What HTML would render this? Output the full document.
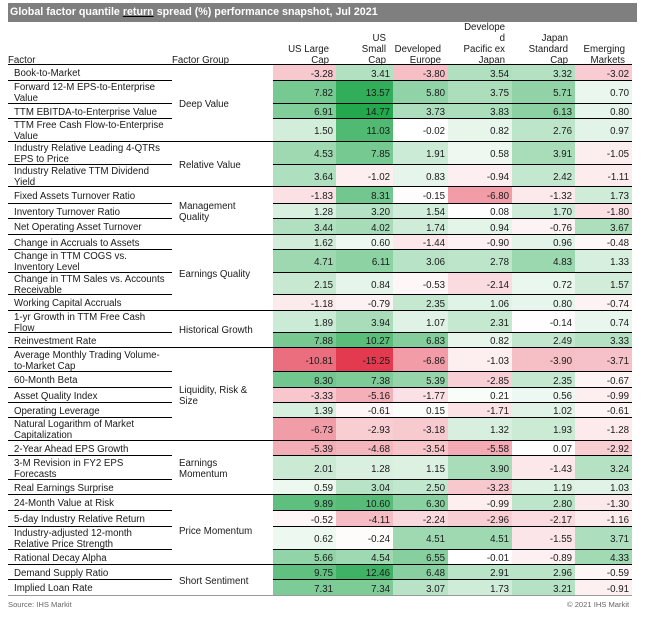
<!DOCTYPE html>
<html><head><meta charset="utf-8">
<style>
*{margin:0;padding:0;box-sizing:border-box}
html,body{width:646px;height:619px;background:#fff;overflow:hidden}
body{font-family:"Liberation Sans",Arial,sans-serif;color:#1a1a1a;position:relative}
.title{position:absolute;left:8px;top:3px;width:629px;height:19px;background:#7f7f7f;color:#fff;font-weight:bold;font-size:10.7px;line-height:19px;padding-left:2px;white-space:nowrap}
.title u{text-decoration:underline;text-decoration-color:#000}
.h{position:absolute;bottom:553px;font-size:9.7px;line-height:11px;white-space:nowrap}
.hr{text-align:right;padding-right:7px}
.hl{position:absolute;left:8px;top:64px;width:624px;height:1px;background:#000;z-index:3}
.r{position:absolute;left:0;width:646px;font-size:9.7px}
.r>div{position:absolute;top:0;height:100%;display:flex;align-items:center;white-space:nowrap}
.r>div.f{left:14px;width:158px;line-height:10.8px;padding-top:3px}
.r>div.c{justify-content:flex-end;padding-right:3px;padding-top:2px;
 --p:calc(max(0, var(--v)) / 14.77);
 --n:calc(max(0, -1 * var(--v)) / 15.25);
 --fp:min(2 * var(--p), 0.085 + 1.15 * var(--p), 0.186 + 0.814 * var(--p));
 --fn:min(1.3 * var(--n), 0.1 + 0.9 * var(--n));
 background:rgb(calc(255 - 220 * var(--fp) - 28 * var(--fn)), calc(255 - 87 * var(--fp) - 197 * var(--fn)), calc(255 - 177 * var(--fp) - 175 * var(--fn)));}
.r>div:nth-child(2){left:273px;width:63px}
.r>div:nth-child(3){left:336px;width:57px}
.r>div:nth-child(4){left:393px;width:55px}
.r>div:nth-child(5){left:448px;width:64px}
.r>div:nth-child(6){left:512px;width:63px}
.r>div:nth-child(7){left:575px;width:57px}
.r::before{content:"";position:absolute;left:8px;width:164px;bottom:0;height:1px;background:#000;z-index:2}
.r::after{content:"";position:absolute;left:273px;width:359px;bottom:0;height:1px;background:#000;z-index:2}
.r.g::after{left:8px;width:624px}
.r.last::after{background:#9a9a9a}
.r.last::before{background:#9a9a9a}
.grp{position:absolute;left:179px;width:94px;display:flex;align-items:center;font-size:9.7px;line-height:10.8px;white-space:nowrap;padding-top:4px}
.foot{position:absolute;top:600px;font-size:7.6px;color:#666;line-height:10px;white-space:nowrap}
</style></head><body>
<div class="title">Global factor quantile <u>return</u> spread (%) performance snapshot, Jul 2021</div>

<div class="h" style="left:8px"><u>Factor</u></div>
<div class="h" style="left:172px">Factor Group</div>
<div class="h hr" style="left:273px;width:63px">US Large<br>Cap</div>
<div class="h hr" style="left:336px;width:57px">US<br>Small<br>Cap</div>
<div class="h hr" style="left:393px;width:55px">Developed<br>Europe</div>
<div class="h hr" style="left:448px;width:64px">Develope<br>d<br>Pacific ex<br>Japan</div>
<div class="h hr" style="left:512px;width:63px">Japan<br>Standard<br>Cap</div>
<div class="h hr" style="left:575px;width:57px">Emerging<br>Markets</div>
<div class="hl"></div>

<div class="r" style="top:65px;height:16px"><div class="f">Book-to-Market</div><div class="c" style="--v:-3.28">-3.28</div><div class="c" style="--v:3.41">3.41</div><div class="c" style="--v:-3.80">-3.80</div><div class="c" style="--v:3.54">3.54</div><div class="c" style="--v:3.32">3.32</div><div class="c" style="--v:-3.02">-3.02</div></div>
<div class="r" style="top:81px;height:23px"><div class="f">Forward 12-M EPS-to-Enterprise<br>Value</div><div class="c" style="--v:7.82">7.82</div><div class="c" style="--v:13.57">13.57</div><div class="c" style="--v:5.80">5.80</div><div class="c" style="--v:3.75">3.75</div><div class="c" style="--v:5.71">5.71</div><div class="c" style="--v:0.70">0.70</div></div>
<div class="r" style="top:104px;height:15px"><div class="f">TTM EBITDA-to-Enterprise Value</div><div class="c" style="--v:6.91">6.91</div><div class="c" style="--v:14.77">14.77</div><div class="c" style="--v:3.73">3.73</div><div class="c" style="--v:3.83">3.83</div><div class="c" style="--v:6.13">6.13</div><div class="c" style="--v:0.80">0.80</div></div>
<div class="r g" style="top:119px;height:23px"><div class="f">TTM Free Cash Flow-to-Enterprise<br>Value</div><div class="c" style="--v:1.50">1.50</div><div class="c" style="--v:11.03">11.03</div><div class="c" style="--v:-0.02">-0.02</div><div class="c" style="--v:0.82">0.82</div><div class="c" style="--v:2.76">2.76</div><div class="c" style="--v:0.97">0.97</div></div>

<div class="r" style="top:142px;height:23px"><div class="f">Industry Relative Leading 4-QTRs<br>EPS to Price</div><div class="c" style="--v:4.53">4.53</div><div class="c" style="--v:7.85">7.85</div><div class="c" style="--v:1.91">1.91</div><div class="c" style="--v:0.58">0.58</div><div class="c" style="--v:3.91">3.91</div><div class="c" style="--v:-1.05">-1.05</div></div>
<div class="r g" style="top:165px;height:22px"><div class="f">Industry Relative TTM Dividend<br>Yield</div><div class="c" style="--v:3.64">3.64</div><div class="c" style="--v:-1.02">-1.02</div><div class="c" style="--v:0.83">0.83</div><div class="c" style="--v:-0.94">-0.94</div><div class="c" style="--v:2.42">2.42</div><div class="c" style="--v:-1.11">-1.11</div></div>

<div class="r" style="top:187px;height:17px"><div class="f">Fixed Assets Turnover Ratio</div><div class="c" style="--v:-1.83">-1.83</div><div class="c" style="--v:8.31">8.31</div><div class="c" style="--v:-0.15">-0.15</div><div class="c" style="--v:-6.80">-6.80</div><div class="c" style="--v:-1.32">-1.32</div><div class="c" style="--v:1.73">1.73</div></div>
<div class="r" style="top:204px;height:15px"><div class="f">Inventory Turnover Ratio</div><div class="c" style="--v:1.28">1.28</div><div class="c" style="--v:3.20">3.20</div><div class="c" style="--v:1.54">1.54</div><div class="c" style="--v:0.08">0.08</div><div class="c" style="--v:1.70">1.70</div><div class="c" style="--v:-1.80">-1.80</div></div>
<div class="r g" style="top:219px;height:16px"><div class="f">Net Operating Asset Turnover</div><div class="c" style="--v:3.44">3.44</div><div class="c" style="--v:4.02">4.02</div><div class="c" style="--v:1.74">1.74</div><div class="c" style="--v:0.94">0.94</div><div class="c" style="--v:-0.76">-0.76</div><div class="c" style="--v:3.67">3.67</div></div>

<div class="r" style="top:235px;height:15px"><div class="f">Change in Accruals to Assets</div><div class="c" style="--v:1.62">1.62</div><div class="c" style="--v:0.60">0.60</div><div class="c" style="--v:-1.44">-1.44</div><div class="c" style="--v:-0.90">-0.90</div><div class="c" style="--v:0.96">0.96</div><div class="c" style="--v:-0.48">-0.48</div></div>
<div class="r" style="top:250px;height:23px"><div class="f">Change in TTM COGS vs.<br>Inventory Level</div><div class="c" style="--v:4.71">4.71</div><div class="c" style="--v:6.11">6.11</div><div class="c" style="--v:3.06">3.06</div><div class="c" style="--v:2.78">2.78</div><div class="c" style="--v:4.83">4.83</div><div class="c" style="--v:1.33">1.33</div></div>
<div class="r" style="top:273px;height:22px"><div class="f">Change in TTM Sales vs. Accounts<br>Receivable</div><div class="c" style="--v:2.15">2.15</div><div class="c" style="--v:0.84">0.84</div><div class="c" style="--v:-0.53">-0.53</div><div class="c" style="--v:-2.14">-2.14</div><div class="c" style="--v:0.72">0.72</div><div class="c" style="--v:1.57">1.57</div></div>
<div class="r g" style="top:295px;height:16px"><div class="f">Working Capital Accruals</div><div class="c" style="--v:-1.18">-1.18</div><div class="c" style="--v:-0.79">-0.79</div><div class="c" style="--v:2.35">2.35</div><div class="c" style="--v:1.06">1.06</div><div class="c" style="--v:0.80">0.80</div><div class="c" style="--v:-0.74">-0.74</div></div>

<div class="r" style="top:311px;height:22px"><div class="f">1-yr Growth in TTM Free Cash<br>Flow</div><div class="c" style="--v:1.89">1.89</div><div class="c" style="--v:3.94">3.94</div><div class="c" style="--v:1.07">1.07</div><div class="c" style="--v:2.31">2.31</div><div class="c" style="--v:-0.14">-0.14</div><div class="c" style="--v:0.74">0.74</div></div>
<div class="r g" style="top:333px;height:15px"><div class="f">Reinvestment Rate</div><div class="c" style="--v:7.88">7.88</div><div class="c" style="--v:10.27">10.27</div><div class="c" style="--v:6.83">6.83</div><div class="c" style="--v:0.82">0.82</div><div class="c" style="--v:2.49">2.49</div><div class="c" style="--v:3.33">3.33</div></div>

<div class="r" style="top:348px;height:24px"><div class="f">Average Monthly Trading Volume-<br>to-Market Cap</div><div class="c" style="--v:-10.81">-10.81</div><div class="c" style="--v:-15.25">-15.25</div><div class="c" style="--v:-6.86">-6.86</div><div class="c" style="--v:-1.03">-1.03</div><div class="c" style="--v:-3.90">-3.90</div><div class="c" style="--v:-3.71">-3.71</div></div>
<div class="r" style="top:372px;height:16px"><div class="f">60-Month Beta</div><div class="c" style="--v:8.30">8.30</div><div class="c" style="--v:7.38">7.38</div><div class="c" style="--v:5.39">5.39</div><div class="c" style="--v:-2.85">-2.85</div><div class="c" style="--v:2.35">2.35</div><div class="c" style="--v:-0.67">-0.67</div></div>
<div class="r" style="top:388px;height:15px"><div class="f">Asset Quality Index</div><div class="c" style="--v:-3.33">-3.33</div><div class="c" style="--v:-5.16">-5.16</div><div class="c" style="--v:-1.77">-1.77</div><div class="c" style="--v:0.21">0.21</div><div class="c" style="--v:0.56">0.56</div><div class="c" style="--v:-0.99">-0.99</div></div>
<div class="r" style="top:403px;height:15px"><div class="f">Operating Leverage</div><div class="c" style="--v:1.39">1.39</div><div class="c" style="--v:-0.61">-0.61</div><div class="c" style="--v:0.15">0.15</div><div class="c" style="--v:-1.71">-1.71</div><div class="c" style="--v:1.02">1.02</div><div class="c" style="--v:-0.61">-0.61</div></div>
<div class="r g" style="top:418px;height:23px"><div class="f">Natural Logarithm of Market<br>Capitalization</div><div class="c" style="--v:-6.73">-6.73</div><div class="c" style="--v:-2.93">-2.93</div><div class="c" style="--v:-3.18">-3.18</div><div class="c" style="--v:1.32">1.32</div><div class="c" style="--v:1.93">1.93</div><div class="c" style="--v:-1.28">-1.28</div></div>

<div class="r" style="top:441px;height:15px"><div class="f">2-Year Ahead EPS Growth</div><div class="c" style="--v:-5.39">-5.39</div><div class="c" style="--v:-4.68">-4.68</div><div class="c" style="--v:-3.54">-3.54</div><div class="c" style="--v:-5.58">-5.58</div><div class="c" style="--v:0.07">0.07</div><div class="c" style="--v:-2.92">-2.92</div></div>
<div class="r" style="top:456px;height:24px"><div class="f">3-M Revision in FY2 EPS<br>Forecasts</div><div class="c" style="--v:2.01">2.01</div><div class="c" style="--v:1.28">1.28</div><div class="c" style="--v:1.15">1.15</div><div class="c" style="--v:3.90">3.90</div><div class="c" style="--v:-1.43">-1.43</div><div class="c" style="--v:3.24">3.24</div></div>
<div class="r g" style="top:480px;height:15px"><div class="f">Real Earnings Surprise</div><div class="c" style="--v:0.59">0.59</div><div class="c" style="--v:3.04">3.04</div><div class="c" style="--v:2.50">2.50</div><div class="c" style="--v:-3.23">-3.23</div><div class="c" style="--v:1.19">1.19</div><div class="c" style="--v:1.03">1.03</div></div>

<div class="r" style="top:495px;height:16px"><div class="f">24-Month Value at Risk</div><div class="c" style="--v:9.89">9.89</div><div class="c" style="--v:10.60">10.60</div><div class="c" style="--v:6.30">6.30</div><div class="c" style="--v:-0.99">-0.99</div><div class="c" style="--v:2.80">2.80</div><div class="c" style="--v:-1.30">-1.30</div></div>
<div class="r" style="top:511px;height:16px"><div class="f">5-day Industry Relative Return</div><div class="c" style="--v:-0.52">-0.52</div><div class="c" style="--v:-4.11">-4.11</div><div class="c" style="--v:-2.24">-2.24</div><div class="c" style="--v:-2.96">-2.96</div><div class="c" style="--v:-2.17">-2.17</div><div class="c" style="--v:-1.16">-1.16</div></div>
<div class="r" style="top:527px;height:23px"><div class="f">Industry-adjusted 12-month<br>Relative Price Strength</div><div class="c" style="--v:0.62">0.62</div><div class="c" style="--v:-0.24">-0.24</div><div class="c" style="--v:4.51">4.51</div><div class="c" style="--v:4.51">4.51</div><div class="c" style="--v:-1.55">-1.55</div><div class="c" style="--v:3.71">3.71</div></div>
<div class="r g" style="top:550px;height:15px"><div class="f">Rational Decay Alpha</div><div class="c" style="--v:5.66">5.66</div><div class="c" style="--v:4.54">4.54</div><div class="c" style="--v:6.55">6.55</div><div class="c" style="--v:-0.01">-0.01</div><div class="c" style="--v:-0.89">-0.89</div><div class="c" style="--v:4.33">4.33</div></div>

<div class="r" style="top:565px;height:15px"><div class="f">Demand Supply Ratio</div><div class="c" style="--v:9.75">9.75</div><div class="c" style="--v:12.46">12.46</div><div class="c" style="--v:6.48">6.48</div><div class="c" style="--v:2.91">2.91</div><div class="c" style="--v:2.96">2.96</div><div class="c" style="--v:-0.59">-0.59</div></div>
<div class="r g last" style="top:580px;height:16px"><div class="f">Implied Loan Rate</div><div class="c" style="--v:7.31">7.31</div><div class="c" style="--v:7.34">7.34</div><div class="c" style="--v:3.07">3.07</div><div class="c" style="--v:1.73">1.73</div><div class="c" style="--v:3.21">3.21</div><div class="c" style="--v:-0.91">-0.91</div></div>

<div class="grp" style="top:65px;height:77px">Deep Value</div>
<div class="grp" style="top:142px;height:45px">Relative Value</div>
<div class="grp" style="top:187px;height:48px">Management<br>Quality</div>
<div class="grp" style="top:235px;height:76px">Earnings Quality</div>
<div class="grp" style="top:311px;height:37px">Historical Growth</div>
<div class="grp" style="top:348px;height:93px">Liquidity, Risk &amp;<br>Size</div>
<div class="grp" style="top:441px;height:54px">Earnings<br>Momentum</div>
<div class="grp" style="top:495px;height:70px">Price Momentum</div>
<div class="grp" style="top:565px;height:31px">Short Sentiment</div>

<div class="foot" style="left:8px">Source: IHS Markit</div>
<div class="foot" style="left:567px">© 2021 IHS Markit</div>
</body></html>
